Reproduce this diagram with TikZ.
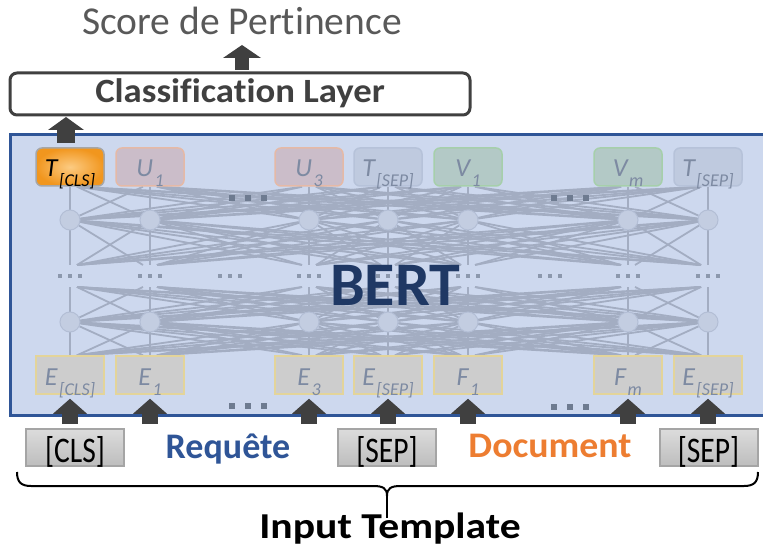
\documentclass[tikz,border=0pt]{standalone}
\usepackage{fontspec}
\setmainfont{Carlito}[Ligatures={NoCommon,NoContextual}]
\usetikzlibrary{arrows.meta,calc}

\definecolor{bertbg}{HTML}{CDD8EE}
\definecolor{bertframe}{HTML}{2F5597}
\definecolor{meshc}{HTML}{A3ADC2}
\definecolor{neuronfill}{HTML}{C3CDE1}
\definecolor{neurondraw}{HTML}{B3BED5}
\definecolor{toktext}{HTML}{7D8AA2}
\definecolor{ufill}{HTML}{CBBDC9}
\definecolor{udraw}{HTML}{E5B9A6}
\definecolor{sepfill}{HTML}{BFCADF}
\definecolor{sepdraw}{HTML}{B6C2D9}
\definecolor{vfill}{HTML}{B3C9C6}
\definecolor{vdraw}{HTML}{A6CFAB}
\definecolor{efill}{HTML}{CDCDCD}
\definecolor{edraw}{HTML}{E3D49A}
\definecolor{darkc}{HTML}{404040}
\definecolor{dotc}{HTML}{6E7B90}
\definecolor{middotc}{HTML}{8C98AD}
\definecolor{reqblue}{HTML}{2F5597}
\definecolor{docorange}{HTML}{ED7D31}
\definecolor{bertnavy}{HTML}{1F3864}
\definecolor{scoregray}{HTML}{595959}
\definecolor{clsin}{HTML}{FCCB82}
\definecolor{clsout}{HTML}{F1961E}
\definecolor{intop}{HTML}{DCDCDC}
\definecolor{inbot}{HTML}{BDBDBD}
\definecolor{indraw}{HTML}{A5A5A5}

% token label: italic letter with a dropped subscript
\newcommand{\toklab}[2]{\fontsize{26}{26}\selectfont\itshape #1\kern1.5pt\raisebox{-10pt}{\fontsize{18}{18}\selectfont #2}}

\pgfdeclarelayer{back}
\pgfdeclarelayer{meshlayer}
\pgfsetlayers{back,meshlayer,main}

\tikzset{
  tok/.style={rectangle, rounded corners=6pt, minimum width=68pt, minimum height=38pt,
    inner sep=0pt, text height=29pt, text depth=9pt, line width=1.5pt, text=toktext},
  utok/.style={tok, fill=ufill, draw=udraw},
  septok/.style={tok, fill=sepfill, draw=sepdraw},
  vtok/.style={tok, fill=vfill, draw=vdraw},
  clstok/.style={tok, inner color=clsin, outer color=clsout, draw=black!35, text=black},
  emb/.style={tok, rounded corners=0pt, fill=efill, draw=edraw},
  neuron/.style={circle, minimum size=20pt, inner sep=0pt, fill=neuronfill, draw=neurondraw, line width=1pt},
  meshline/.style={draw=meshc, line width=1.8pt},
  inbox/.style={rectangle, minimum width=98pt, minimum height=37pt, inner sep=0pt,
    text height=33pt, text depth=4pt, top color=intop, bottom color=inbot, draw=indraw,
    line width=2pt, text=black, font=\fontsize{36}{36}\selectfont},
  uparrow/.style={darkc, line width=16pt, -{Triangle[width=34pt,length=15pt,line width=0pt]}},
  clsarrow/.style={darkc, line width=18pt, -{Triangle[width=36pt,length=13pt,line width=0pt]}},
  toparrow/.style={darkc, line width=14pt, -{Triangle[width=38pt,length=13pt,line width=0pt]}},
  bigdot/.style={fill=dotc},
  smalldot/.style={fill=middotc},
  bracestyle/.style={draw=black, line width=2pt},
}

\begin{document}
\begin{tikzpicture}[x=1pt, y=-1pt]
\useasboundingbox (0,0) rectangle (763,548);

% BERT frame
\begin{pgfonlayer}{back}
  \draw[fill=bertbg, draw=bertframe, line width=3pt] (10,135) rectangle (766,415);
\end{pgfonlayer}

% output tokens
\node[clstok] (t1) at (70,167)  {\toklab{T}{[CLS]}};
\node[utok]   (t2) at (150,167) {\toklab{U}{1}};
\node[utok]   (t3) at (309,167) {\toklab{U}{3}};
\node[septok] (t4) at (388,167) {\toklab{T}{[SEP]}};
\node[vtok]   (t5) at (468,167) {\toklab{V}{1}};
\node[vtok]   (t6) at (628,167) {\toklab{V}{m}};
\node[septok] (t7) at (708,167) {\toklab{T}{[SEP]}};

% input embeddings
\node[emb] (e1) at (70,375)  {\toklab{E}{[CLS]}};
\node[emb] (e2) at (150,375) {\toklab{E}{1}};
\node[emb] (e3) at (309,375) {\toklab{E}{3}};
\node[emb] (e4) at (388,375) {\toklab{E}{[SEP]}};
\node[emb] (e5) at (468,375) {\toklab{F}{1}};
\node[emb] (e6) at (628,375) {\toklab{F}{m}};
\node[emb] (e7) at (708,375) {\toklab{E}{[SEP]}};

% hidden units and layer gaps
\foreach \x [count=\i] in {70,150,309,388,468,628,708} {
  \node[neuron] (h\i) at (\x,220) {};
  \node[neuron] (g\i) at (\x,322) {};
  \coordinate (mu\i) at (\x,265);
  \coordinate (ml\i) at (\x,287);
}

% fully connected attention mesh
\begin{pgfonlayer}{meshlayer}
\foreach \xi [count=\i] in {70,150,309,388,468,628,708} {
  \draw[meshline] (t\i.south) -- (mu\i);
  \draw[meshline] (ml\i) -- (e\i.north);
  \foreach \xj [count=\j] in {70,150,309,388,468,628,708} {
    \ifnum\i=\j\else
      \pgfmathsetmacro\dx{-7*sign(\xj-\xi)}
      \draw[meshline] (h\i) -- ([xshift=\dx pt]t\j.south);
      \draw[meshline] (h\i) -- ([xshift=\dx pt]mu\j);
      \draw[meshline] (g\i) -- ([xshift=\dx pt]ml\j);
      \draw[meshline] (g\i) -- ([xshift=\dx pt]e\j.north);
    \fi
  }
}
\end{pgfonlayer}

% ellipsis between layers
\foreach \x in {70,150,230,309,388,468,550,628,708} {
  \foreach \d in {-10,0,10} {
    \fill[smalldot] (\x+\d-1.7,274.3) rectangle (\x+\d+1.7,277.7);
  }
}
% ellipsis between tokens
\foreach \x/\y in {248/198,570/198,248/406,570/407} {
  \foreach \d in {-16,0,16} {
    \fill[bigdot] (\x+\d-2.6,\y-2.6) rectangle (\x+\d+2.6,\y+2.6);
  }
}

\node[anchor=base, text=bertnavy, font=\fontsize{62}{62}\selectfont\bfseries] (bert) at (395,305) {BERT};

% classification head
\node[draw=darkc, line width=3pt, rounded corners=7pt, fill=white, minimum width=460pt,
  minimum height=42pt, inner sep=0pt, text height=30pt, text depth=12pt, text=darkc,
  font=\fontsize{34}{34}\selectfont\bfseries] (cls) at (240,94) {\scalebox{1.08}[1]{Classification Layer}};
\node[anchor=base, text=scoregray, font=\fontsize{39.5}{40}\selectfont] (score) at (242,35) {Score de Pertinence};

\coordinate (clsfoot) at (66,143);
\coordinate (clstip) at (66,117);
\draw[clsarrow] (clsfoot) -- (clstip);
\coordinate (scorefoot) at (242,70);
\coordinate (scoretip) at (242,45);
\draw[toparrow] (scorefoot) -- (scoretip);

% input template
\node[inbox] (incls) at (75,447.5) {\scalebox{0.82}[1]{[CLS]}};
\node[inbox] (insep) at (387,447.5) {\scalebox{0.82}[1]{[SEP]}};
\node[inbox] (insep2) at (708.5,447.5) {\scalebox{0.82}[1]{[SEP]}};
\node[anchor=base, text=reqblue, font=\fontsize{36}{36}\selectfont\bfseries] (req) at (228,458) {Requête};
\node[anchor=base, text=docorange, font=\fontsize{36}{36}\selectfont\bfseries] (doc) at (550,457) {\scalebox{1.05}[1]{Document}};

\foreach \x [count=\j] in {70,150,309,388,468,628,708} {
  \coordinate (a\j) at (\x,424);
  \draw[uparrow] (a\j) -- ([yshift=-4pt]e\j.south);
}

% brace under the template
\coordinate (brl) at (17,472);
\coordinate (brr) at (758,472);
\coordinate (brtip) at (387,496);
\coordinate (brfoot) at (387,518);
\draw[bracestyle] (brl) .. controls (17,482) and (21,486) .. (31,486) -- (373,486)
  .. controls (383,486) and (387,488) .. (brtip)
  .. controls (387,488) and (391,486) .. (401,486) -- (744,486)
  .. controls (754,486) and (758,482) .. (brr);
\draw[bracestyle, line width=1.5pt] (387,490) -- (brfoot);

\node[anchor=base, text=black, font=\fontsize{36.5}{37}\selectfont\bfseries] (tmpl) at (390,538) {\scalebox{1.14}[1]{Input Template}};
\end{tikzpicture}
\end{document}
